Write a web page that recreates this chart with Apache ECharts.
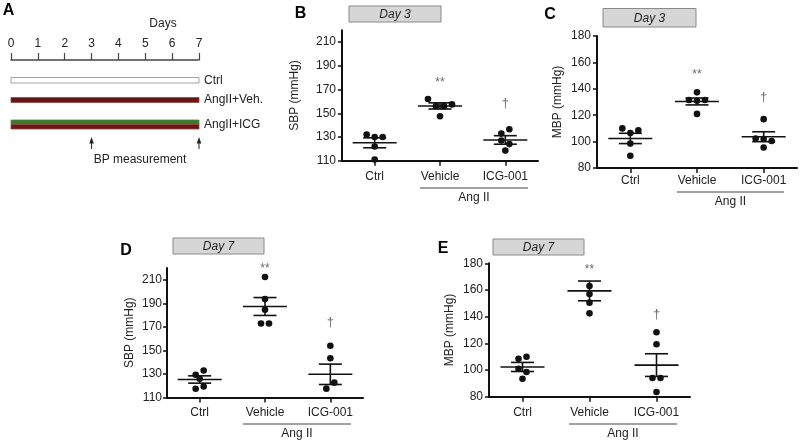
<!DOCTYPE html>
<html>
<head>
<meta charset="utf-8">
<script src="https://cdn.jsdelivr.net/npm/echarts@6/dist/echarts.min.js"></script>
<style>
html,body{margin:0;padding:0;background:#fff;}
#chart{width:800px;height:442px;}
</style>
</head>
<body>
<div id="chart"></div>
<script>
// ---------------- DATA ----------------
const dayMin = 0, dayMax = 7;
const timelineGroups = ['Ctrl', 'AngII+Veh.', 'AngII+ICG'];
const timelineStart = [0, 0, 0];
const timelineEnd = [7, 7, 7];
const measurementDays = [3, 7];

const groupNames = ['Ctrl', 'Vehicle', 'ICG-001'];
const sbpTicks = [110, 130, 150, 170, 190, 210];
const mbpTicks = [80, 100, 120, 140, 160, 180];
const sigMarks = ['**', '\u2020'];

// B: SBP, day 3
const sbpDay3Ctrl = [132, 130, 130, 122, 111];
const sbpDay3Veh = [162, 156, 156, 157.5, 147.5];
const sbpDay3Icg = [133, 136.5, 127, 124, 118.5];
const sbpDay3Mean = [125.1, 156.2, 127.5];
const sbpDay3Sem = [4.2, 2.6, 3.6];
const sbpDay3MarkY = [null, 178, 158];

// C: MBP, day 3
const mbpDay3Ctrl = [110, 106.5, 108.5, 98.5, 89.3];
const mbpDay3Veh = [137.3, 131.5, 131, 131.5, 121];
const mbpDay3Icg = [117, 102.3, 102, 100.5, 95.5];
const mbpDay3Mean = [102.4, 130.4, 103.7];
const mbpDay3Sem = [3.9, 2.6, 3.75];
const mbpDay3MarkY = [null, 153, 133.6];

// D: SBP, day 7
const sbpDay7Ctrl = [129.3, 132.9, 125.9, 117.4, 119.3];
const sbpDay7Veh = [212.3, 193.6, 184.5, 172.9, 172.9];
const sbpDay7Icg = [154, 143.3, 117.5, 122.6];
const sbpDay7Mean = [125.3, 187.3, 129.7];
const sbpDay7Sem = [3.1, 7.6, 8.65];
const sbpDay7MarkY = [null, 221.7, 173.9];

// E: MBP, day 7
const mbpDay7Ctrl = [108.5, 110, 101, 98.5, 93.5];
const mbpDay7Veh = [163, 157, 150.5, 142.5];
const mbpDay7Icg = [128.3, 119.3, 94, 94, 83.5];
const mbpDay7Mean = [102.3, 159.3, 103.7];
const mbpDay7Sem = [3.4, 7.4, 8.5];
const mbpDay7MarkY = [null, 177.5, 142];

// ---------------- LAYOUT / STYLE ----------------
const FONT = "'Liberation Sans', Arial, Helvetica, sans-serif";
const TXT = '#222';
const AX = '#111';
const SWARM_ROW_PX = 7.5;
const SWARM_SPACING = 8;
const DOT_R = 3.3;
const MEAN_HALF = 22;
const CAP_HALF = 11.5;

// timeline rows (pixel layout): each row made of stacked layers
const TIMELINE_ROWS = [
  {label: 80.3, layers: [{y: 77.5, h: 5.5, fill: '#ffffff', stroke: '#8c8c8c'}]},
  {label: 100, layers: [{y: 97.5, h: 5, fill: '#6b1616', stroke: '#8f4545'}]},
  {label: 124.5, layers: [{y: 120, h: 4.5, fill: '#3e7a2c', stroke: '#4f8a3c'},
                          {y: 124.5, h: 4.5, fill: '#6b1616', stroke: '#8f4545'}]}
];

const panels = [
  {grid: {left: 342, top: 30.3, width: 196, height: 130.4}, yMin: 110, yMax: 220, ticks: sbpTicks,
   name: 'SBP (mmHg)', nameGap: 41, xMargin: 10, yMargin: 6,
   groups: [sbpDay3Ctrl, sbpDay3Veh, sbpDay3Icg], mean: sbpDay3Mean, sem: sbpDay3Sem, markY: sbpDay3MarkY},
  {grid: {left: 597, top: 36, width: 200, height: 132}, yMin: 80, yMax: 180, ticks: mbpTicks,
   name: 'MBP (mmHg)', nameGap: 33, xMargin: 7, yMargin: 6,
   groups: [mbpDay3Ctrl, mbpDay3Veh, mbpDay3Icg], mean: mbpDay3Mean, sem: mbpDay3Sem, markY: mbpDay3MarkY},
  {grid: {left: 167, top: 268, width: 196, height: 129.5}, yMin: 110, yMax: 220, ticks: sbpTicks,
   name: 'SBP (mmHg)', nameGap: 31, xMargin: 9, yMargin: 5,
   groups: [sbpDay7Ctrl, sbpDay7Veh, sbpDay7Icg], mean: sbpDay7Mean, sem: sbpDay7Sem, markY: sbpDay7MarkY},
  {grid: {left: 489, top: 263.3, width: 201, height: 133.4}, yMin: 80, yMax: 180, ticks: mbpTicks,
   name: 'MBP (mmHg)', nameGap: 33, xMargin: 10, yMargin: 6,
   groups: [mbpDay7Ctrl, mbpDay7Veh, mbpDay7Icg], mean: mbpDay7Mean, sem: mbpDay7Sem, markY: mbpDay7MarkY}
];

function swarmOffsets(values, pxPerUnit) {
  const order = values.map((v, i) => i).sort((a, b) => (values[b] - values[a]) || (a - b));
  const off = new Array(values.length).fill(0);
  let row = [], startV = null;
  const flush = () => {
    const r = row.slice().sort((a, b) => a - b);
    r.forEach((k, j) => { off[k] = (j - (r.length - 1) / 2) * SWARM_SPACING; });
    row = [];
  };
  order.forEach(k => {
    if (row.length && (startV - values[k]) * pxPerUnit < SWARM_ROW_PX) row.push(k);
    else { if (row.length) flush(); row = [k]; startV = values[k]; }
  });
  if (row.length) flush();
  return off;
}

// ---------------- OPTION ----------------
const grids = [{left: 11, top: 60, width: 188, height: 100, outerBoundsMode: 'none'}];
const xAxes = [{
  gridIndex: 0, type: 'value', position: 'top', min: dayMin, max: dayMax, interval: 1,
  axisLine: {show: true, onZero: false, lineStyle: {color: '#444', width: 1.5}},
  axisTick: {show: true, length: 7, lineStyle: {color: '#444', width: 1.2}},
  axisLabel: {margin: 10, fontSize: 12, color: TXT, fontFamily: FONT},
  splitLine: {show: false}
}];
const yAxes = [{gridIndex: 0, type: 'value', min: 0, max: 1, show: false}];
const series = [];

// timeline bars
series.push({
  type: 'custom', xAxisIndex: 0, yAxisIndex: 0, clip: false, silent: true,
  encode: {x: [0, 1]},
  data: timelineGroups.map((g, i) => [timelineStart[i], timelineEnd[i], i]),
  renderItem: (params, api) => {
    const x0 = api.coord([api.value(0), 0])[0];
    const x1 = api.coord([api.value(1), 0])[0];
    const i = api.value(2);
    const row = TIMELINE_ROWS[i];
    const children = row.layers.map(l => ({
      type: 'rect', shape: {x: x0, y: l.y, width: x1 - x0, height: l.h},
      style: {fill: l.fill, stroke: l.stroke, lineWidth: 0.8}
    }));
    children.push({type: 'text', x: x1 + 5, y: row.label,
      style: {text: timelineGroups[i], fill: TXT, fontSize: 12, fontFamily: FONT, align: 'left', verticalAlign: 'middle'}});
    return {type: 'group', children};
  }
});
// measurement arrows
series.push({
  type: 'custom', xAxisIndex: 0, yAxisIndex: 0, clip: false, silent: true,
  encode: {x: 0},
  data: measurementDays.map(d => [d]),
  renderItem: (params, api) => {
    const x = api.coord([api.value(0), 0])[0];
    return {type: 'group', children: [
      {type: 'line', shape: {x1: x, y1: 149, x2: x, y2: 142}, style: {stroke: '#222', lineWidth: 1}},
      {type: 'polygon', shape: {points: [[x, 137], [x - 2.3, 143.5], [x + 2.3, 143.5]]}, style: {fill: '#222'}}
    ]};
  }
});

panels.forEach((p, k) => {
  const gi = k + 1;
  grids.push(Object.assign({outerBoundsMode: 'none'}, p.grid));
  xAxes.push({
    gridIndex: gi, type: 'category', data: groupNames, boundaryGap: true,
    axisLine: {show: true, onZero: false, lineStyle: {color: AX, width: 2}},
    axisTick: {show: true, alignWithLabel: true, length: 5, lineStyle: {color: AX, width: 1.5}},
    axisLabel: {margin: p.xMargin, fontSize: 12, color: TXT, fontFamily: FONT, interval: 0},
    splitLine: {show: false}
  });
  yAxes.push({
    gridIndex: gi, type: 'value', min: p.yMin, max: p.yMax,
    axisLine: {show: true, lineStyle: {color: AX, width: 2}},
    axisTick: {show: true, length: 4, customValues: p.ticks, lineStyle: {color: AX, width: 1.5}},
    axisLabel: {customValues: p.ticks, margin: p.yMargin, fontSize: 12, color: TXT, fontFamily: FONT},
    splitLine: {show: false},
    name: p.name, nameLocation: 'middle', nameGap: p.nameGap,
    nameTextStyle: {fontSize: 12, color: TXT, fontFamily: FONT}
  });
  const pxPerUnit = p.grid.height / (p.yMax - p.yMin);
  const pts = [];
  p.groups.forEach((vals, gIdx) => {
    const off = swarmOffsets(vals, pxPerUnit);
    vals.forEach((v, i) => pts.push([gIdx, v, off[i]]));
  });
  series.push({
    type: 'custom', xAxisIndex: gi, yAxisIndex: gi, clip: false, silent: true,
    encode: {x: 0, y: 1}, data: pts,
    renderItem: (params, api) => {
      const c = api.coord([api.value(0), api.value(1)]);
      return {type: 'circle', shape: {cx: c[0] + api.value(2), cy: c[1], r: DOT_R}, style: {fill: '#111'}};
    }
  });
  series.push({
    type: 'custom', xAxisIndex: gi, yAxisIndex: gi, clip: false, silent: true,
    encode: {x: 0, y: 1},
    data: p.mean.map((m, i) => [i, m, p.sem[i]]),
    renderItem: (params, api) => {
      const x = api.value(0), m = api.value(1), s = api.value(2);
      const c = api.coord([x, m]);
      const t = api.coord([x, m + s]);
      const b = api.coord([x, m - s]);
      const st = {stroke: '#111', lineWidth: 1.6};
      return {type: 'group', children: [
        {type: 'line', shape: {x1: c[0] - MEAN_HALF, y1: c[1], x2: c[0] + MEAN_HALF, y2: c[1]}, style: st},
        {type: 'line', shape: {x1: c[0], y1: t[1], x2: c[0], y2: b[1]}, style: st},
        {type: 'line', shape: {x1: c[0] - CAP_HALF, y1: t[1], x2: c[0] + CAP_HALF, y2: t[1]}, style: st},
        {type: 'line', shape: {x1: c[0] - CAP_HALF, y1: b[1], x2: c[0] + CAP_HALF, y2: b[1]}, style: st}
      ]};
    }
  });
  const marks = [];
  p.markY.forEach((y, i) => { if (y != null) marks.push([i, y, i - 1]); });
  series.push({
    type: 'custom', xAxisIndex: gi, yAxisIndex: gi, clip: false, silent: true,
    encode: {x: 0, y: 1}, data: marks,
    renderItem: (params, api) => {
      const c = api.coord([api.value(0), api.value(1)]);
      const txt = sigMarks[api.value(2)];
      const isStar = txt === '**';
      return {type: 'text', x: c[0], y: c[1] + (isStar ? 3 : 0),
        style: {text: txt, fill: '#6a6a6a', fontSize: isStar ? 12 : 13, fontFamily: FONT, align: 'center', verticalAlign: 'middle'}};
    }
  });
});

function txt(x, y, text, extra) {
  return {type: 'text', x, y, silent: true,
    style: Object.assign({text, fill: TXT, fontSize: 12, fontFamily: FONT, align: 'center', verticalAlign: 'middle'}, extra || {})};
}
function dayBox(x, y, w, h, label) {
  return [
    {type: 'rect', silent: true, shape: {x, y, width: w, height: h}, style: {fill: '#d6d6d6', stroke: '#8a8a8a', lineWidth: 1}},
    txt(x + w / 2, y + h / 2 + 0.5, label, {fontStyle: 'italic', fontSize: 12})
  ];
}
function angLine(x1, x2, y, ty) {
  return [
    {type: 'line', silent: true, shape: {x1, y1: y, x2, y2: y}, style: {stroke: '#444', lineWidth: 1}},
    txt((x1 + x2) / 2, ty, 'Ang II')
  ];
}
const bold = {fontWeight: 'bold', fontSize: 16, fill: '#000'};
const graphic = [
  txt(8.5, 10.5, 'A', bold),
  txt(300.5, 13.5, 'B', bold),
  txt(550, 15, 'C', bold),
  txt(126, 251, 'D', bold),
  txt(443, 248.5, 'E', bold),
  txt(163, 24, 'Days'),
  txt(140, 160, 'BP measurement'),
  ...dayBox(349, 6, 92, 16, 'Day 3'),
  ...dayBox(603, 8.5, 93, 18.5, 'Day 3'),
  ...dayBox(173, 238, 91, 16, 'Day 7'),
  ...dayBox(493, 239, 91, 16, 'Day 7'),
  ...angLine(420, 528, 188, 198),
  ...angLine(677, 784, 192, 201.5),
  ...angLine(243, 351, 424, 434),
  ...angLine(569, 677, 424, 434)
];

const chart = echarts.init(document.getElementById('chart'), null, {renderer: 'canvas'});
chart.setOption({
  animation: false,
  backgroundColor: '#fff',
  textStyle: {fontFamily: FONT},
  grid: grids, xAxis: xAxes, yAxis: yAxes, series, graphic
});
</script>
</body>
</html>
